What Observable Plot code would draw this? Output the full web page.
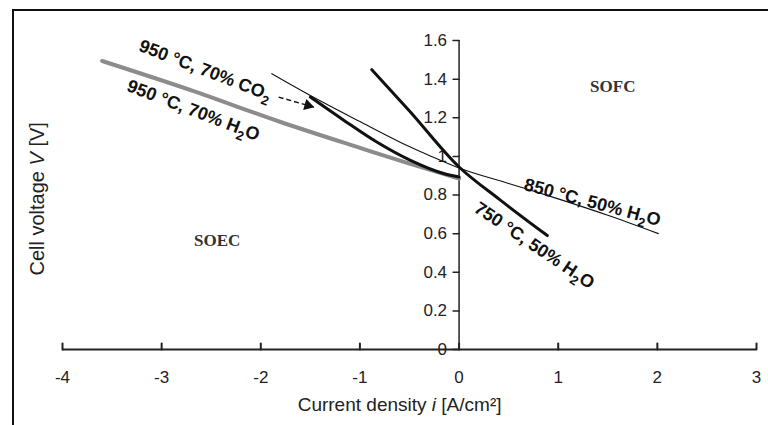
<!DOCTYPE html>
<html><head><meta charset="utf-8">
<script src="https://cdn.jsdelivr.net/npm/d3@7"></script>
<script src="https://cdn.jsdelivr.net/npm/@observablehq/plot@0.6"></script>
<style>
html,body{margin:0;padding:0;background:#fff;}
#wrap{position:relative;width:768px;height:425px;overflow:hidden;background:#fff;}
#wrap svg{position:absolute;left:0;top:0;}
#border{position:absolute;left:12px;top:9px;width:756px;height:420px;border-top:2px solid #111;border-left:2px solid #111;pointer-events:none;}
</style></head><body>
<div id="wrap"></div>
<script>
// ---- data ----
const xTicks = [-4, -3, -2, -1, 0, 1, 2, 3];
const yTicks = [0, 0.2, 0.4, 0.6, 0.8, 1, 1.2, 1.4, 1.6];
const yTickLabels = ["0", "0.2", "0.4", "0.6", "0.8", "1", "1.2", "1.4", "1.6"];

// 950 °C, 70% H2O (grey)
const i950H2O = [-3.6, -2.7, -1.8, -1.0, -0.5, 0.0];
const v950H2O = [1.494, 1.342, 1.178, 1.044, 0.962, 0.885];
// 950 °C, 70% CO2 (thick black)
const i950CO2 = [-1.5, -1.16, -0.83, -0.49, -0.15, 0.0];
const v950CO2 = [1.307, 1.186, 1.074, 0.979, 0.91, 0.893];
// 850 °C, 50% H2O (thin black)
const i850H2O = [-1.89, -1.5, -1.0, -0.6, -0.3, 0.0, 0.5, 1.0, 1.5, 2.01];
const v850H2O = [1.428, 1.315, 1.18, 1.075, 1.005, 0.94, 0.86, 0.78, 0.695, 0.60];
// 750 °C, 50% H2O (thick black)
const i750H2O = [-0.88, -0.5, 0.0, 0.4, 0.89];
const v750H2O = [1.449, 1.235, 0.945, 0.78, 0.59];

// annotation labels
const labelTexts = ["950 °C, 70% CO_2", "950 °C, 70% H_2O", "850 °C, 50% H_2O", "750 °C, 50% H_2O"];
const labelI = [-2.56, -2.68, 1.345, 0.76];
const labelV = [1.446, 1.238, 0.762, 0.539];
const labelAngle = [21, 21, 15, 34];

const regionTexts = ["SOFC", "SOEC"];
const regionI = [1.55, -2.44];
const regionV = [1.363, 0.565];

// arrow from CO2 label to its curve
const arrowFrom = [-1.82, 1.307];
const arrowTo = [-1.466, 1.255];

const xLabel = "Current density *i* [A/cm²]";
const yLabel = "Cell voltage *V* [V]";

// ---- build ----
const mk = (xs, ys) => xs.map((x, k) => ({i: x, v: ys[k]}));
const tickShape = {draw(ctx, l) { ctx.moveTo(0, 0); ctx.lineTo(0, -l); }};
const labels = labelTexts.map((t, k) => ({t, i: labelI[k], v: labelV[k], a: labelAngle[k]}));
const regions = regionTexts.map((t, k) => ({t, i: regionI[k], v: regionV[k]}));
const ang = 16;

const plot = Plot.plot({
  width: 768, height: 425,
  marginLeft: 62, marginRight: 12, marginTop: 40, marginBottom: 76,
  style: {fontFamily: "'Liberation Sans', Arial, sans-serif", fontSize: "15px", background: "transparent", color: "#222"},
  x: {domain: [-4, 3], axis: null},
  y: {domain: [0, 1.6], axis: null},
  marks: [
    // axes
    Plot.ruleY([0], {x1: -4, x2: 3, stroke: "#222", strokeWidth: 2}),
    Plot.ruleX([0], {y1: 0, y2: 1.6, stroke: "#222", strokeWidth: 1.5}),
    Plot.vector(xTicks, {x: d => d, y: 0, length: 6, anchor: "start", rotate: 0, shape: tickShape, stroke: "#222", strokeWidth: 2}),
    Plot.vector(yTicks, {x: 0, y: d => d, length: 6, anchor: "start", rotate: -90, shape: tickShape, stroke: "#222", strokeWidth: 1.5}),
    Plot.text(xTicks, {x: d => d, y: 0, dy: 28, text: d => String(d), fontSize: 17, fill: "#222"}),
    Plot.text(yTicks, {x: 0, y: d => d, dx: -12, text: (d, k) => yTickLabels[k], textAnchor: "end", fontSize: 17, fill: "#222"}),
    Plot.text([xLabel], {x: -0.6, y: 0, dy: 55, text: d => d, fontSize: 19, fill: "#222"}),
    Plot.text([yLabel], {x: -4, y: 0.78, dx: -25, rotate: -90, text: d => d, fontSize: 20, fill: "#222"}),
    // curves
    Plot.line(mk(i950H2O, v950H2O), {x: "i", y: "v", stroke: "#8c8c8c", strokeWidth: 4, curve: "monotone-x"}),
    Plot.line(mk(i850H2O, v850H2O), {x: "i", y: "v", stroke: "#111", strokeWidth: 1.1, curve: "monotone-x"}),
    Plot.line(mk(i950CO2, v950CO2), {x: "i", y: "v", stroke: "#111", strokeWidth: 3, curve: "monotone-x"}),
    Plot.line(mk(i750H2O, v750H2O), {x: "i", y: "v", stroke: "#111", strokeWidth: 3, curve: "monotone-x"}),
    // arrow
    Plot.link([0], {x1: arrowFrom[0], y1: arrowFrom[1], x2: arrowTo[0], y2: arrowTo[1], stroke: "#111", strokeWidth: 1.4, strokeDasharray: "5,3"}),
    Plot.dot([0], {x: arrowTo[0], y: arrowTo[1], symbol: "triangle2", r: 5.5, fill: "#111", rotate: 90 + ang,
      dx: -6 * Math.cos(ang * Math.PI / 180), dy: -6 * Math.sin(ang * Math.PI / 180)}),
    // labels
    Plot.text(labels, {x: "i", y: "v", text: "t", rotate: "a", fontSize: 18, fontWeight: "bold", fill: "#111"}),
    Plot.text(regions, {x: "i", y: "v", text: "t", fontSize: 17, fontWeight: "bold", fill: "#333",
      fontFamily: "'Liberation Serif', 'Times New Roman', serif"})
  ]
});

// rich text: _2 subscript, *x* italic
d3.select(plot).selectAll("text").each(function () {
  const t = this.textContent;
  if (!/_2|\*/.test(t)) return;
  const fs = parseFloat(this.getAttribute("font-size") || d3.select(this.parentNode).attr("font-size")) || 15;
  const parts = t.split(/(_2|\*[^*]+\*)/).filter(s => s);
  this.textContent = "";
  let shifted = false;
  for (const p of parts) {
    const ts = document.createElementNS("http://www.w3.org/2000/svg", "tspan");
    if (p === "_2") {
      ts.textContent = "2";
      ts.setAttribute("font-size", (fs * 0.72) + "px");
      ts.setAttribute("dy", (fs * 0.3) + "px");
      shifted = true;
    } else {
      if (p.startsWith("*")) { ts.textContent = p.slice(1, -1); ts.setAttribute("font-style", "italic"); }
      else ts.textContent = p;
      if (shifted) { ts.setAttribute("dy", (-fs * 0.3) + "px"); shifted = false; }
    }
    this.appendChild(ts);
  }
});

const wrap = document.getElementById("wrap");
wrap.appendChild(plot);
const border = document.createElement("div");
border.id = "border";
wrap.appendChild(border);
</script>
</body></html>
